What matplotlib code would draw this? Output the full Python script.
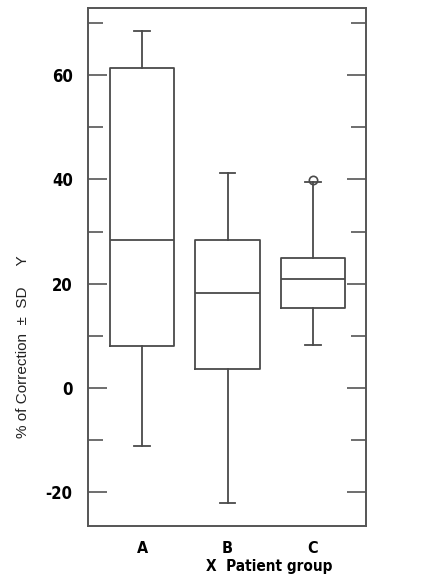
import matplotlib
matplotlib.use("Agg")
import matplotlib.pyplot as plt
from matplotlib import font_manager

names = {f.name for f in font_manager.fontManager.ttflist}
cond = 'Liberation Sans Narrow' if 'Liberation Sans Narrow' in names else 'DejaVu Sans'

categories = ['A', 'B', 'C']
q1 = [8.1, 3.7, 15.4]
medians = [28.3, 18.2, 20.9]
q3 = [61.3, 28.3, 24.9]
whislo = [-11.1, -22.1, 8.2]
whishi = [68.4, 41.3, 39.6]
fliers = [[], [], [39.8]]
yticks = [-20, 0, 20, 40, 60]
yminor = [-10, 10, 30, 50, 70]

stats = []
for i, c in enumerate(categories):
    stats.append(dict(label=c, q1=q1[i], med=medians[i], q3=q3[i],
                      whislo=whislo[i], whishi=whishi[i], fliers=fliers[i]))

W, H = 425, 582
fig = plt.figure(figsize=(W/100, H/100), dpi=100)
ax = fig.add_axes([88/W, 1-526/H, (366-88)/W, (526-8)/H])

lc = '#4a4a4a'
ax.bxp(stats, positions=[1, 2, 3], widths=0.75, showfliers=True,
       boxprops=dict(color=lc, linewidth=1.3),
       medianprops=dict(color=lc, linewidth=1.3),
       whiskerprops=dict(color=lc, linewidth=1.3),
       capprops=dict(color=lc, linewidth=1.3),
       capwidths=0.18,
       flierprops=dict(marker='o', markersize=6, markerfacecolor='none',
                       markeredgecolor=lc, markeredgewidth=1.2))

ax.set_xlim(0.368, 3.62)
ax.set_ylim(-26.5, 72.9)
for s in ax.spines.values():
    s.set_color('#555555')
    s.set_linewidth(1.4)

tf = dict(fontfamily=cond, fontweight='bold', fontstretch='condensed')
ax.set_yticks(yticks)
ax.set_yticks(yminor, minor=True)
ax.tick_params(axis='y', which='major', direction='in', length=14, width=1.2,
               color='#555555', left=True, right=True, pad=11)
ax.tick_params(axis='y', which='minor', direction='in', length=11, width=1.2,
               color='#555555', left=True, right=True)
ax.set_yticklabels([str(v) for v in yticks], fontsize=12, **tf)

ax.set_xticks([1, 2, 3.0])
ax.set_xticklabels(categories, fontsize=11.5, **tf)
ax.tick_params(axis='x', length=0, pad=11)
for lbl, x in zip(ax.get_xticklabels(), [1, 1.99, 2.95]):
    lbl.set_x(x)

fig.text(269/W, 1-566/H, 'X  Patient group', ha='center', va='center',
         fontsize=11, **tf)
fig.text(23/W, 1-347/H, '% of Correction  ±  SD     Y', rotation=90,
         ha='center', va='center', fontfamily='Liberation Sans', fontsize=11, color='#222222')

fig.savefig('out.png', dpi=100, facecolor='white')
